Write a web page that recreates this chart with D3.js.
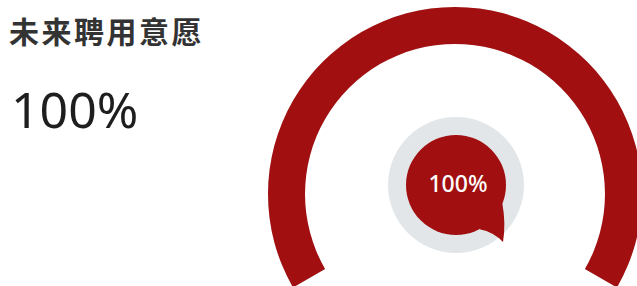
<!DOCTYPE html>
<html>
<head>
<meta charset="utf-8">
<script src="https://cdn.jsdelivr.net/npm/d3@7/dist/d3.min.js"></script>
<style>
  body { margin: 0; background: #fff; }
  svg { display: block; }
</style>
</head>
<body>
<div id="chart"></div>
<script>
// donnees
const titles = ["未来聘用意愿"];
const values = [100];
const maxValues = [100];
const angleRange = [-120, 120]; // degres, 0 = midi

const width = 637, height = 286;
const cx = 455, cy = 194;
const bubbleX = 456, bubbleY = 185;

const svg = d3.select("#chart")
  .append("svg")
  .attr("width", width)
  .attr("height", height);

const fmt = v => `${Math.round(v)}%`;

// echelle angle
const angle = d3.scaleLinear()
  .domain([0, maxValues[0]])
  .range(angleRange.map(a => a * Math.PI / 180));

const arc = d3.arc()
  .innerRadius(150)
  .outerRadius(187);

const g = svg.append("g")
  .attr("transform", `translate(${cx},${cy})`);

// fond du gauge
g.append("path")
  .attr("d", arc({ startAngle: angle(0), endAngle: angle(maxValues[0]) }))
  .attr("fill", "#e6e8ea");

// valeur
g.selectAll("path.value")
  .data(values)
  .join("path")
  .attr("class", "value")
  .attr("d", d => arc({ startAngle: angle(0), endAngle: angle(d) }))
  .attr("fill", "#a10f10");

// bulle centrale
const b = svg.append("g")
  .attr("transform", `translate(${bubbleX},${bubbleY})`);

b.append("circle")
  .attr("r", 68)
  .attr("fill", "#e2e6e8");

const r = 50;
const p = (deg) => [r * Math.cos(deg * Math.PI / 180), r * Math.sin(deg * Math.PI / 180)];
const a1 = p(22), a2 = p(62);
const tail = d3.path();
tail.moveTo(a1[0], a1[1]);
tail.quadraticCurveTo(50, 38, 47, 57);
tail.quadraticCurveTo(38, 47, a2[0], a2[1]);
tail.closePath();

b.append("path")
  .attr("d", tail.toString())
  .attr("fill", "#a10f10");

b.append("circle")
  .attr("r", r)
  .attr("fill", "#a10f10");

b.selectAll("text")
  .data(values)
  .join("text")
  .attr("x", 2)
  .attr("y", 7)
  .attr("text-anchor", "middle")
  .attr("fill", "#fff")
  .style("font-family", "'Noto Sans', sans-serif")
  .style("font-size", "23px")
  .style("font-weight", "500")
  .text(d => fmt(d));

// titre et valeur a gauche
svg.append("text")
  .attr("x", 9)
  .attr("y", 43)
  .style("font-family", "'Noto Sans CJK SC', sans-serif")
  .style("font-size", "30px")
  .style("font-weight", "bold")
  .style("letter-spacing", "2.5px")
  .attr("fill", "#333")
  .text(titles[0]);

svg.append("text")
  .attr("x", 11)
  .attr("y", 128)
  .style("font-family", "'Noto Sans', sans-serif")
  .style("font-size", "50px")
  .attr("fill", "#1e1e1e")
  .text(fmt(values[0]));
</script>
</body>
</html>
